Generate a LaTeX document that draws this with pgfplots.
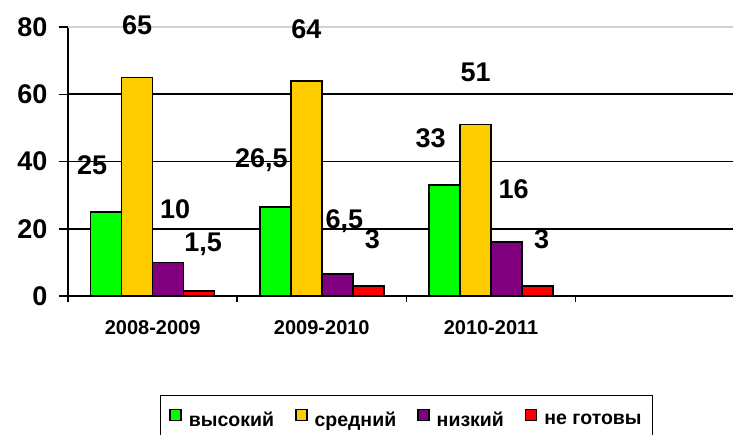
\documentclass[border=0pt]{standalone}
\usepackage{pgfplots}
\pgfplotsset{compat=1.18}
\usepackage{fontspec}
\setmainfont{Liberation Sans}
\definecolor{cgreen}{RGB}{0,255,0}
\definecolor{cyellow}{RGB}{255,204,0}
\definecolor{cpurple}{RGB}{128,0,128}
\definecolor{cred}{RGB}{255,0,0}
\newcommand{\bigfont}{\fontsize{27pt}{30pt}\selectfont\bfseries}
\newcommand{\catfont}{\fontsize{20pt}{22pt}\selectfont\bfseries}
\newcommand{\legfont}{\fontsize{19.5pt}{22pt}\selectfont\bfseries}
\begin{document}
\begin{tikzpicture}
\useasboundingbox (0,0) rectangle (733pt,434pt);
\begin{axis}[
  at={(68pt,138pt)}, anchor=south west,
  scale only axis, width=665pt, height=269pt,
  ybar, bar width=31pt, ybar=0pt,
  xmin=-0.5, xmax=3.43, ymin=0, ymax=80,
  axis x line*=bottom, axis y line*=left,
  axis line style={line width=1.8pt, black},
  xtick={0,1,2}, xticklabels={2008-2009,2009-2010,2010-2011},
  major x tick style={draw=none},
  minor xtick={-0.5,0.5,1.5,2.5},
  minor tick length=6pt,
  major tick length=9pt,
  tick align=outside,
  tick style={black, line width=1.5pt},
  ytick={0,20,40,60}, extra y ticks={80},
  extra y tick style={grid style={gray!35, line width=1.2pt}},
  ymajorgrids, grid style={black, line width=1.6pt},
  /pgf/number format/assume math mode=true,
  yticklabel style={font=\bigfont, xshift=-8pt},
  xticklabel style={font=\catfont, yshift=-12pt},
  legend style={at={(rel axis cs:0.509,-0.368)}, anchor=north, legend columns=4,
    draw=black, line width=1.5pt, font=\legfont, inner xsep=9pt, inner ysep=13pt,
    /tikz/every odd column/.append style={column sep=5pt},
    /tikz/every even column/.append style={column sep=19pt}},
  legend cell align=left,
  legend image code/.code={\draw[#1, line width=1.5pt] (0pt,0pt) rectangle (11pt,11pt);},
  nodes near coords style={font=\bigfont, text=black, anchor=center},
  point meta=explicit symbolic,
]
\addplot[fill=cgreen, draw=black, line width=1.5pt, nodes near coords,
  nodes near coords style={xshift=-14pt, yshift=47pt}]
  coordinates {(0,25) [25] (1,26.5) [{26,5}] (2,33) [33]};
\addplot[fill=cyellow, draw=black, line width=1.5pt, nodes near coords,
  nodes near coords style={xshift=0pt, yshift=52pt}]
  coordinates {(0,65) [65] (1,64) [64] (2,51) [51]};
\addplot[fill=cpurple, draw=black, line width=1.5pt, nodes near coords,
  nodes near coords style={xshift=7pt, yshift=53pt}]
  coordinates {(0,10) [10] (1,6.5) [{6,5}] (2,16) [16]};
\addplot[fill=cred, draw=black, line width=1.5pt, nodes near coords,
  nodes near coords style={xshift=4pt, yshift=47pt}]
  coordinates {(0,1.5) [{1,5}] (1,3) [3] (2,3) [3]};
\legend{высокий, средний, низкий, не готовы}
\end{axis}
\end{tikzpicture}
\end{document}
